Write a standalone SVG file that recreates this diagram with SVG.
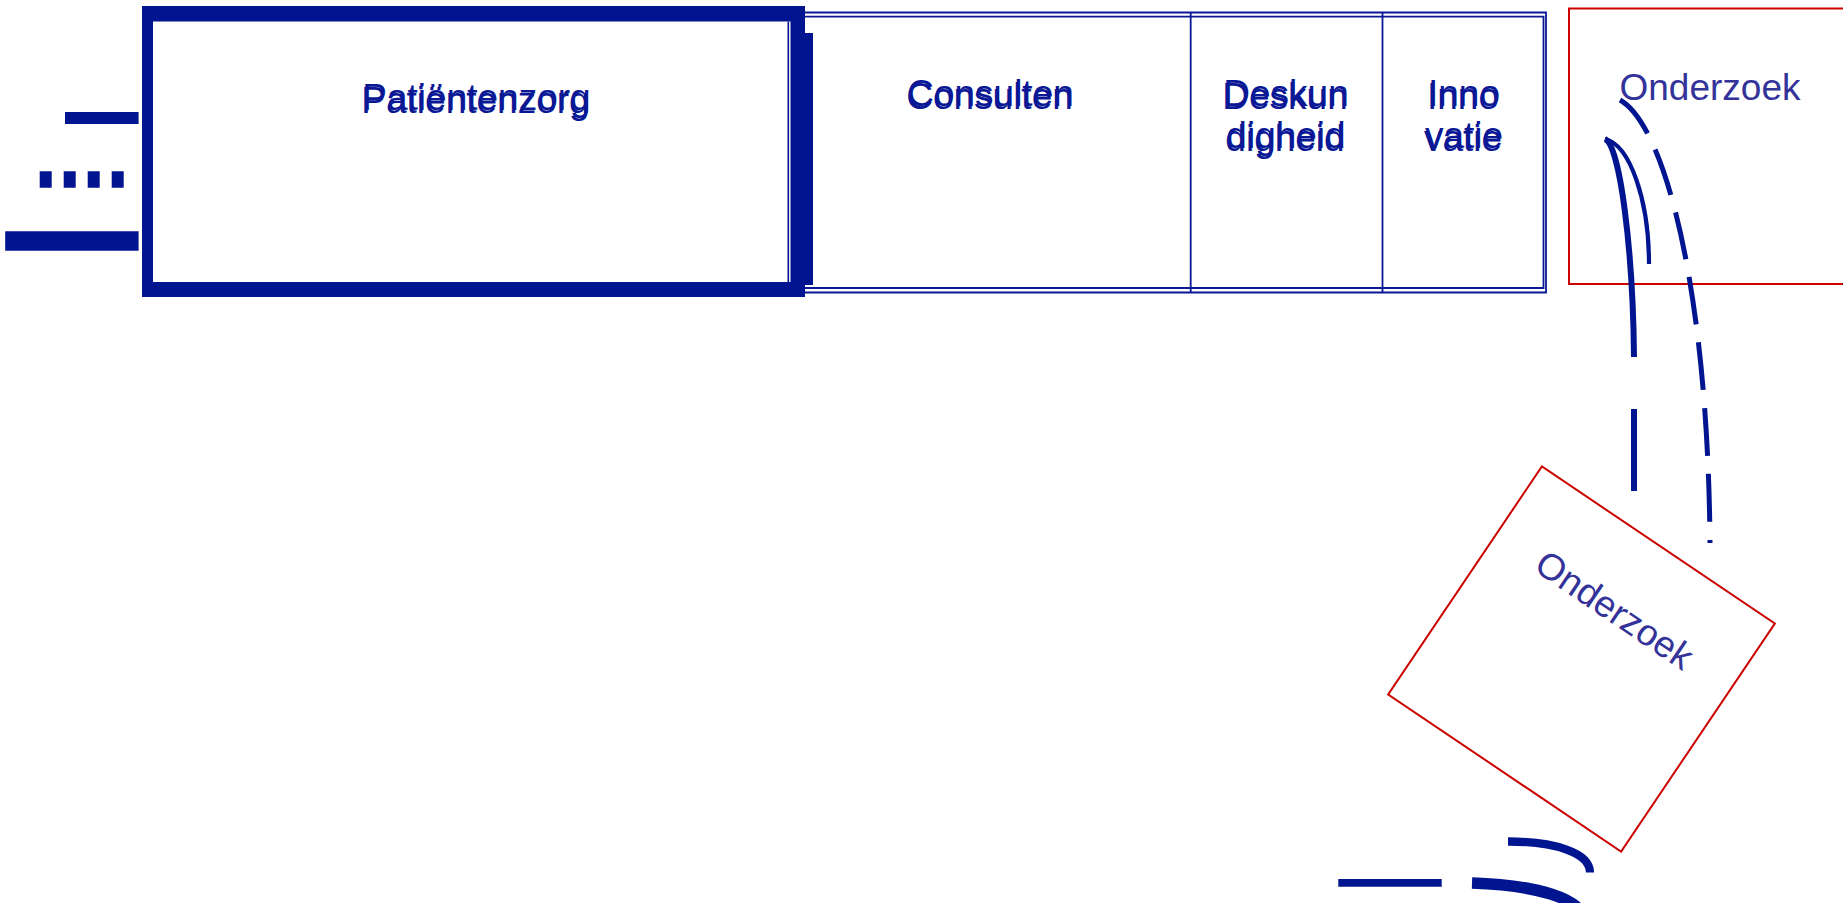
<svg xmlns="http://www.w3.org/2000/svg" width="1843" height="903" viewBox="0 0 1843 903">
  <style>
    .lbl { font-family: "Liberation Sans", Arial, sans-serif; font-size: 37px; fill: #0a1896; text-anchor: middle; }
    .lbl2 { font-family: "Liberation Sans", Arial, sans-serif; font-size: 37px; fill: #333399; text-anchor: middle; }
    .thin { fill: none; stroke: #0a1896; stroke-width: 1.8; }
    .red { fill: none; stroke: #cc0000; stroke-width: 2; }
    .conn { fill: none; stroke: #021591; }
  </style>
  <rect width="1843" height="903" fill="#ffffff"/>

  <g id="frame-tabs">
    <path class="thin" d="M805,12.5 H1546 V292.5 H805"/>
    <path class="thin" d="M805,16.7 H1543.5 V288 H805"/>
    <line class="thin" x1="1190.7" y1="12.5" x2="1190.7" y2="292.5" stroke-width="2"/>
    <line class="thin" x1="1382.5" y1="12.5" x2="1382.5" y2="292.5" stroke-width="2"/>
  </g>

  <g id="node-patientenzorg">
    <path fill="#021591" fill-rule="evenodd" d="M142,6 H805 V297 H142 Z M153,21.5 V282 H790.5 V21.5 Z"/>
    <line x1="788.3" y1="21.5" x2="788.3" y2="282" stroke="#021591" stroke-width="1.6"/>
    <rect x="805" y="33" width="8" height="252" fill="#021591"/>
    <text class="lbl" x="476.5" y="110">Patiëntenzorg</text>
    <text class="lbl" x="475.5" y="113">Patiëntenzorg</text>
  </g>

  <g id="node-consulten">
    <text class="lbl" x="990.5" y="105.5">Consulten</text>
    <text class="lbl" x="989.5" y="108.5">Consulten</text>
  </g>

  <g id="node-deskundigheid">
    <text class="lbl" x="1286" y="105.5">Deskun</text>
    <text class="lbl" x="1285" y="108.5">Deskun</text>
    <text class="lbl" x="1286" y="148">digheid</text>
    <text class="lbl" x="1285" y="151">digheid</text>
  </g>

  <g id="node-innovatie">
    <text class="lbl" x="1464" y="105.5">Inno</text>
    <text class="lbl" x="1463" y="108.5">Inno</text>
    <text class="lbl" x="1464" y="148">vatie</text>
    <text class="lbl" x="1463" y="151">vatie</text>
  </g>

  <g id="node-onderzoek-1">
    <rect class="red" x="1569" y="8.5" width="281" height="275.5"/>
    <text class="lbl2" x="1710" y="99.5">Onderzoek</text>
  </g>

  <g id="node-onderzoek-2" transform="translate(1581.5,659) rotate(34)">
    <rect class="red" x="-140.5" y="-137.5" width="281" height="275"/>
    <text class="lbl2" x="0" y="-46.5">Onderzoek</text>
  </g>

  <g id="connectors">
    <line class="conn" x1="65" y1="118" x2="138.6" y2="118" stroke-width="12"/>
    <line class="conn" x1="39.7" y1="179.5" x2="124" y2="179.5" stroke-width="16.5" stroke-dasharray="12 12"/>
    <line class="conn" x1="5.2" y1="241" x2="138.6" y2="241" stroke-width="19.5"/>

    <path class="conn" stroke-width="6" d="M1605,139 C1620,145 1633,250 1634,357 M1634,409 L1634,491"/>
    <path class="conn" stroke-width="4.2" d="M1605,139 C1630,145 1649,200 1649,264"/>
    <path class="conn" stroke-width="5" stroke-dasharray="48 18" stroke-dashoffset="45" d="M1710,543 C1708,290 1665,125 1620,100"/>

    <line class="conn" x1="1338.3" y1="882.8" x2="1441.7" y2="882.8" stroke-width="7.7"/>
    <path class="conn" stroke-width="11.7" d="M1472,883 C1535,885 1582,898 1584,920"/>
    <path class="conn" stroke-width="8.3" d="M1508,841.5 C1553,841.5 1590,852 1590,872.5"/>
  </g>
</svg>
